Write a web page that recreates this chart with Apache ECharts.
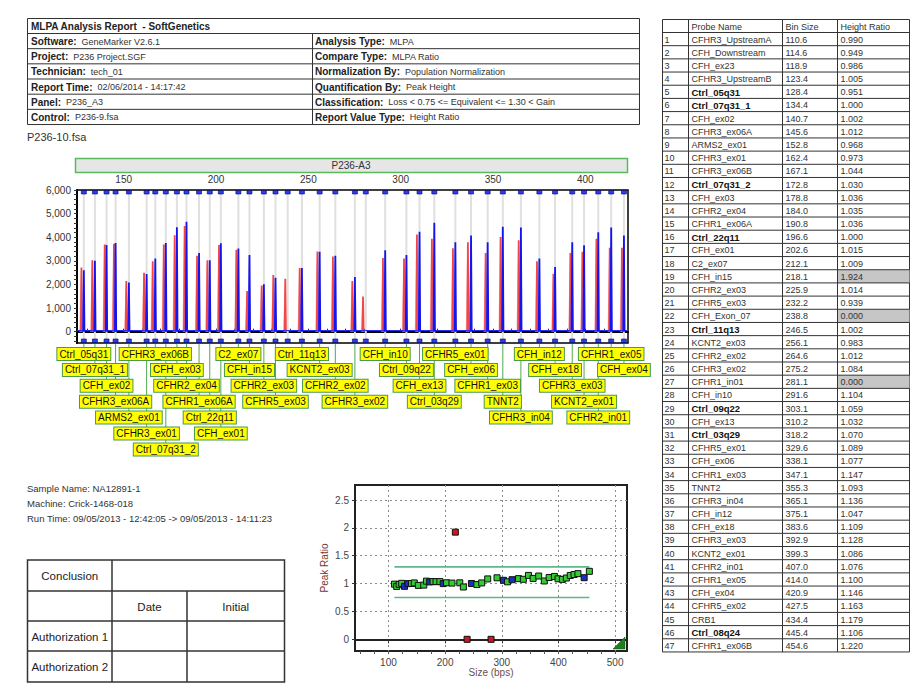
<!DOCTYPE html>
<html><head><meta charset="utf-8">
<script src="https://cdn.jsdelivr.net/npm/echarts@6/dist/echarts.min.js"></script>
<style>html,body{margin:0;padding:0;background:#fff;}#c{width:914px;height:694px;}</style>
</head><body><div id="c"></div>
<script>
const FF = '"Liberation Sans", Arial, sans-serif';

// ---------- report header ----------
const reportTitle = 'MLPA Analysis Report  - SoftGenetics';
const headerLeftLabels = ['Software:', 'Project:', 'Technician:', 'Report Time:', 'Panel:', 'Control:'];
const headerLeftValues = ['GeneMarker V2.6.1', 'P236 Project.SGF', 'tech_01', '02/06/2014 - 14:17:42', 'P236_A3', 'P236-9.fsa'];
const headerRightLabels = ['Analysis Type:', 'Compare Type:', 'Normalization By:', 'Quantification By:', 'Classification:', 'Report Value Type:'];
const headerRightValues = ['MLPA', 'MLPA Ratio', 'Population Normalization', 'Peak Height', 'Loss < 0.75 <= Equivalent <= 1.30 < Gain', 'Height Ratio'];
const sampleFile = 'P236-10.fsa';
const panelName = 'P236-A3';
const sampleInfo = ['Sample Name: NA12891-1', 'Machine: Crick-1468-018', 'Run Time: 09/05/2013 - 12:42:05 -> 09/05/2013 - 14:11:23'];
const conclusionRows = [['Conclusion', '', ''], ['', 'Date', 'Initial'], ['Authorization 1', '', ''], ['Authorization 2', '', '']];

// ---------- probe table ----------
const tableHeaders = ['', 'Probe Name', 'Bin Size', 'Height Ratio'];
const probeNames = ['CFHR3_UpstreamA','CFH_Downstream','CFH_ex23','CFHR3_UpstreamB','Ctrl_05q31','Ctrl_07q31_1','CFH_ex02','CFHR3_ex06A','ARMS2_ex01','CFHR3_ex01','CFHR3_ex06B','Ctrl_07q31_2','CFH_ex03','CFHR2_ex04','CFHR1_ex06A','Ctrl_22q11','CFH_ex01','C2_ex07','CFH_in15','CFHR2_ex03','CFHR5_ex03','CFH_Exon_07','Ctrl_11q13','KCNT2_ex03','CFHR2_ex02','CFHR3_ex02','CFHR1_in01','CFH_in10','Ctrl_09q22','CFH_ex13','Ctrl_03q29','CFHR5_ex01','CFH_ex06','CFHR1_ex03','TNNT2','CFHR3_in04','CFH_in12','CFH_ex18','CFHR3_ex03','KCNT2_ex01','CFHR2_in01','CFHR1_ex05','CFH_ex04','CFHR5_ex02','CRB1','Ctrl_08q24','CFHR1_ex06B'];
const binSizes = [110.6,114.6,118.9,123.4,128.4,134.4,140.7,145.6,152.8,162.4,167.1,172.8,178.8,184.0,190.8,196.6,202.6,212.1,218.1,225.9,232.2,238.8,246.5,256.1,264.6,275.2,281.1,291.6,303.1,310.2,318.2,329.6,338.1,347.1,355.3,365.1,375.1,383.6,392.9,399.3,407.0,414.0,420.9,427.5,434.4,445.4,454.6];
const heightRatios = [0.990,0.949,0.986,1.005,0.951,1.000,1.002,1.012,0.968,0.973,1.044,1.030,1.036,1.035,1.036,1.000,1.015,1.009,1.924,1.014,0.939,0.000,1.002,0.983,1.012,1.084,0.000,1.104,1.059,1.032,1.070,1.089,1.077,1.147,1.093,1.136,1.047,1.109,1.128,1.086,1.076,1.100,1.146,1.163,1.179,1.106,1.220];
const lossThreshold = 0.75, gainThreshold = 1.30;

// ---------- electropherogram peaks (visible window) ----------
const sampleSizes = [128.4,134.4,140.7,145.6,152.8,162.4,167.1,172.8,178.8,184.0,190.8,196.6,202.6,212.1,218.1,225.9,232.2,246.5,256.1,264.6,275.2,291.6,303.1,310.2,318.2,329.6,338.1,347.1,355.3,365.1,375.1,383.6,392.9,399.3,407.0,414.0,420.9];
const sampleHeights = [2600,3000,3670,3760,2080,2440,3100,3760,4420,4650,3330,3020,3740,3520,3250,2010,2280,2700,3380,3220,2310,3450,3250,4230,4610,3790,4070,3790,4440,4410,3100,2740,3790,3660,4210,4410,4070];
const controlSizes = [127.1,133.0,139.7,144.7,151.4,161.0,165.7,171.7,177.6,183.0,189.7,195.3,201.6,211.0,216.8,224.7,231.0,237.5,245.3,254.9,263.3,273.8,279.6,290.4,301.8,308.8,316.9,328.3,336.4,346.0,354.1,363.9,373.8,382.7,391.9,398.4,406.0,413.2,419.8];
const controlHeights = [2720,3020,3690,3720,2150,2500,2980,3690,4080,4480,3220,3020,3670,3470,1720,1960,2400,2240,2700,3400,3180,2150,1490,3120,3100,4110,3930,3530,3790,3330,4010,3870,2980,2450,3330,3380,3930,3550,3550];
const baselineLevel = 40;

// ---------- axis ticks ----------
const epgSizeTicks = [150,200,250,300,350,400];
const epgHeightTicks = [0,1000,2000,3000,4000,5000,6000];
const ratioSizeTicks = [100,200,300,400,500];
const ratioTicks = [0,0.5,1,1.5,2,2.5];

// ---------- layout (label rows under the electropherogram) ----------
const labelRows = {'Ctrl_05q31':1,'Ctrl_07q31_1':2,'CFH_ex02':3,'CFHR3_ex06A':4,'ARMS2_ex01':5,'CFHR3_ex01':6,'CFHR3_ex06B':1,'Ctrl_07q31_2':7,'CFH_ex03':2,'CFHR2_ex04':3,'CFHR1_ex06A':4,'Ctrl_22q11':5,'CFH_ex01':6,'C2_ex07':1,'CFH_in15':2,'CFHR2_ex03':3,'CFHR5_ex03':4,'Ctrl_11q13':1,'KCNT2_ex03':2,'CFHR2_ex02':3,'CFHR3_ex02':4,'CFH_in10':1,'Ctrl_09q22':2,'CFH_ex13':3,'Ctrl_03q29':4,'CFHR5_ex01':1,'CFH_ex06':2,'CFHR1_ex03':3,'TNNT2':4,'CFHR3_in04':5,'CFH_in12':1,'CFH_ex18':2,'CFHR3_ex03':3,'KCNT2_ex01':4,'CFHR2_in01':5,'CFHR1_ex05':1,'CFH_ex04':2};
const EPG_X = [124.7, 423.1], EPG_Y = [-480, 6000];
const RATIO_X = [41, 521], RATIO_Y = [-0.21, 2.77];

// ---------- helpers ----------
const mctx = document.createElement('canvas').getContext('2d');
function tw(t, font) { mctx.font = font; return mctx.measureText(t).width; }
const G = [];
function gRect(x, y, w, h, fill, stroke, lw, z) { G.push({type:'rect', silent:true, z:z||10, shape:{x, y, width:w, height:h}, style:{fill:fill||'none', stroke:stroke||'none', lineWidth:lw||1}}); }
function gLine(x1, y1, x2, y2, stroke, lw, z) { G.push({type:'line', silent:true, z:z||11, shape:{x1, y1, x2, y2}, style:{stroke:stroke||'#333', lineWidth:lw||1}}); }
function gText(x, y, t, font, align, fill, z) {
  G.push({type:'text', silent:true, z:z||12, x, y, style:{text:t, font, fill:fill||'#222', align:align||'left', verticalAlign:'middle', textAlign:align||'left', textVerticalAlign:'middle'}});
}
const fB10 = 'bold 10px ' + FF, f9 = '9px ' + FF, fB9 = 'bold 9.5px ' + FF;

// header table
(function(){
  const x0 = 27.5, x1 = 639.5, y0 = 18.5, titleH = 15, rowH = 15.17, split = 312.5;
  const yEnd = y0 + titleH + rowH * 6;
  gRect(x0, y0, x1 - x0, yEnd - y0, '#fff', '#333', 1);
  gLine(x0, y0 + titleH, x1, y0 + titleH, '#333', 1);
  for (let i = 1; i < 6; i++) gLine(x0, y0 + titleH + i * rowH, x1, y0 + titleH + i * rowH, '#333', 1);
  gLine(split, y0 + titleH, split, yEnd, '#333', 1);
  gText(31, y0 + titleH / 2 + 0.5, reportTitle, fB10);
  for (let i = 0; i < 6; i++) {
    const cy = y0 + titleH + i * rowH + rowH / 2 + 0.5;
    gText(31, cy, headerLeftLabels[i], fB10);
    gText(31 + tw(headerLeftLabels[i], fB10) + 5, cy, headerLeftValues[i], f9, 'left', '#333');
    gText(315, cy, headerRightLabels[i], fB10);
    gText(315 + tw(headerRightLabels[i], fB10) + 5, cy, headerRightValues[i], f9, 'left', '#333');
  }
  gText(27, 137, sampleFile, '11px ' + FF, 'left', '#333');
})();

// probe table
(function(){
  const cols = [662.5, 688.5, 782.5, 837.5, 909.5];
  const y0 = 19.5, headH = 13, rowH = 13.18;
  const yEnd = y0 + headH + rowH * probeNames.length;
  gRect(cols[0], y0, cols[4] - cols[0], yEnd - y0, '#fff', '#333', 1, 9);
  probeNames.forEach((n, i) => {
    const r = heightRatios[i];
    if (r < lossThreshold || r > gainThreshold) gRect(cols[3], y0 + headH + i * rowH, cols[4] - cols[3], rowH, '#c6c6c6', 'none', 1, 10);
  });
  gLine(cols[0], y0 + headH, cols[4], y0 + headH, '#333', 1);
  for (let i = 1; i < probeNames.length; i++) gLine(cols[0], y0 + headH + i * rowH, cols[4], y0 + headH + i * rowH, '#333', 1);
  for (let c = 1; c < 4; c++) gLine(cols[c], y0, cols[c], yEnd, '#333', 1);
  tableHeaders.forEach((h, c) => { if (h) gText(cols[c] + 3, y0 + headH / 2 + 0.5, h, f9, 'left', '#333'); });
  probeNames.forEach((n, i) => {
    const cy = y0 + headH + i * rowH + rowH / 2 + 0.5;
    gText(cols[0] + 2, cy, String(i + 1), f9, 'left', '#333');
    const isCtrl = n.indexOf('Ctrl') === 0;
    gText(cols[1] + 3, cy, n, isCtrl ? fB9 : f9, 'left', isCtrl ? '#111' : '#333');
    gText(cols[2] + 3, cy, binSizes[i].toFixed(1), f9, 'left', '#333');
    gText(cols[3] + 3, cy, heightRatios[i].toFixed(3), f9, 'left', '#333');
  });
})();

// panel bar
gRect(75.5, 158.5, 552, 14, '#e6e6e6', '#5cb85c', 1.5);
gText(351, 165.5, panelName, '10px ' + FF, 'center', '#333');

// sample info
sampleInfo.forEach((t, i) => gText(27, 488 + i * 15, t, '9.5px ' + FF, 'left', '#333'));

// conclusion table
(function(){
  const x0 = 27.5, x1 = 284.5, c1 = 112, c2 = 187, ys = [560, 591, 621, 651, 682];
  gRect(x0, ys[0], x1 - x0, ys[4] - ys[0], '#fff', '#333', 1.5);
  for (let i = 1; i < 4; i++) gLine(x0, ys[i], x1, ys[i], '#333', 1.5);
  gLine(c1, ys[0], c1, ys[4], '#333', 1.5);
  gLine(c2, ys[1], c2, ys[4], '#333', 1.5);
  const cx = [(x0 + c1) / 2, (c1 + c2) / 2, (c2 + x1) / 2];
  conclusionRows.forEach((row, r) => row.forEach((t, c) => {
    if (t) gText(cx[c], (ys[r] + ys[r + 1]) / 2 + 0.5, t, '11.5px ' + FF, 'center', '#222');
  }));
})();

// scatter corner mark
G.push({type:'polygon', silent:true, z:20, shape:{points:[[613, 649], [625, 637], [625, 649]]}, style:{fill:'#1f7f1f', stroke:'#114411', lineWidth:0.5}});

// ---------- chart ----------
const chart = echarts.init(document.getElementById('c'), null, {renderer:'svg', width:914, height:694});

const minorSize = []; for (let v = 130; v <= 420; v += 10) minorSize.push(v);
const minorHeight = []; for (let v = -400; v <= 6000; v += 200) minorHeight.push(v);
const minorRatioSize = []; for (let v = 50; v <= 500; v += 25) minorRatioSize.push(v);

const labelNames = probeNames.filter(n => labelRows[n] !== undefined);
const labelData = labelNames.map(n => [binSizes[probeNames.indexOf(n)], labelRows[n]]);
const ROW_Y0 = 354, ROW_GAP = 15.9;

function peakRender(line, halo) {
  return function (params, api) {
    const x = api.value(0), h = api.value(1);
    const hl = api.coord([x - 1.2, 0]), hr = api.coord([x + 0.5, 0]);
    const pl = api.coord([x - 0.35, 0]), pt = api.coord([x, h]), pr = api.coord([x + 0.35, 0]);
    return {type:'group', children:[
      {type:'polygon', shape:{points:[[hl[0], hl[1]], [pt[0] - 0.6, pt[1] + 3], [hr[0], hr[1]]]}, style:{fill:halo, stroke:'none'}},
      {type:'polyline', shape:{points:[[pl[0], pl[1]], [pt[0], pt[1]], [pr[0], pr[1]]]}, style:{stroke:line, fill:'none', lineWidth:1.8}}
    ]};
  };
}

const scatterData = binSizes.map((b, i) => {
  const r = heightRatios[i];
  let c = '#33cc33';
  if (r < lossThreshold || r > gainThreshold) c = '#c8191e';
  else if (probeNames[i].indexOf('Ctrl') === 0) c = '#1c2fc4';
  return {value:[b, r], itemStyle:{color:c}};
});

const option = {
  animation:false,
  backgroundColor:'#fff',
  textStyle:{fontFamily:FF},
  graphic:{elements:G},
  grid:[
    {left:77, top:190, width:551, height:153, show:true, borderColor:'#000', borderWidth:1.5, backgroundColor:'#fff'},
    {left:355, top:485, width:272, height:166, show:true, borderColor:'#222', borderWidth:2, backgroundColor:'#fff'}
  ],
  xAxis:[
    {type:'value', gridIndex:0, position:'top', min:EPG_X[0], max:EPG_X[1],
     axisLine:{show:true, lineStyle:{color:'#000', width:2}},
     axisTick:{show:true, length:3, customValues:minorSize, lineStyle:{color:'#333'}},
     axisLabel:{customValues:epgSizeTicks, fontSize:10, color:'#333', margin:6, fontFamily:FF},
     splitLine:{show:false}},
    {type:'value', gridIndex:1, position:'bottom', min:RATIO_X[0], max:RATIO_X[1],
     name:'Size (bps)', nameLocation:'middle', nameGap:15, nameTextStyle:{fontSize:10, color:'#6a5050', fontFamily:FF},
     axisLine:{show:true, lineStyle:{color:'#222', width:2}},
     axisTick:{show:true, length:4, customValues:ratioSizeTicks, lineStyle:{color:'#333'}},
     axisLabel:{customValues:ratioSizeTicks, fontSize:10, color:'#444', margin:6, fontFamily:FF},
     splitLine:{show:true, lineStyle:{color:'#8a8a8a', type:[2, 3], width:1}}},
    {type:'value', gridIndex:1, position:'bottom', min:RATIO_X[0], max:RATIO_X[1],
     axisLine:{show:false}, axisLabel:{show:false}, splitLine:{show:false},
     axisTick:{show:true, length:3, customValues:minorRatioSize, lineStyle:{color:'#555'}}}
  ],
  yAxis:[
    {type:'value', gridIndex:0, min:EPG_Y[0], max:EPG_Y[1],
     axisLine:{show:true, lineStyle:{color:'#000', width:2}},
     axisTick:{show:true, length:3, customValues:minorHeight, lineStyle:{color:'#333'}},
     axisLabel:{customValues:epgHeightTicks, fontSize:10, color:'#333', margin:6, fontFamily:FF,
       formatter:v => Number(v).toLocaleString('en-US')},
     splitLine:{show:false}},
    {type:'value', gridIndex:1, min:RATIO_Y[0], max:RATIO_Y[1],
     name:'Peak Ratio', nameLocation:'middle', nameGap:26, nameRotate:90, nameTextStyle:{fontSize:10, color:'#7a3535', fontFamily:FF},
     axisLine:{show:true, lineStyle:{color:'#222', width:2}},
     axisTick:{show:true, length:3, customValues:ratioTicks, lineStyle:{color:'#333'}},
     axisLabel:{customValues:ratioTicks, fontSize:10, color:'#444', margin:6, fontFamily:FF},
     splitLine:{show:true, lineStyle:{color:'#8a8a8a', type:[2, 3], width:1}}}
  ],
  series:[
    // bin lines
    {type:'custom', xAxisIndex:0, yAxisIndex:0, z:1, silent:true, clip:false,
     data:binSizes.map(b => [b, 0]),
     renderItem(params, api) {
       const x = api.value(0);
       if (x < EPG_X[0] || x > EPG_X[1]) return null;
       const t = api.coord([x, EPG_Y[1]]), b = api.coord([x, EPG_Y[0]]);
       return {type:'line', shape:{x1:t[0], y1:t[1] + 1, x2:b[0], y2:b[1] - 1}, style:{stroke:'#e0e0e0', lineWidth:2}};
     }},
    // baseline
    {type:'line', xAxisIndex:0, yAxisIndex:0, data:[], z:3, silent:true,
     markLine:{silent:true, symbol:'none', label:{show:false},
       lineStyle:{color:'#2a2af0', width:1.2, type:'solid'}, data:[{yAxis:baselineLevel}]}},
    // control (red) peaks
    {type:'custom', xAxisIndex:0, yAxisIndex:0, z:4, silent:true,
     data:controlSizes.map((s, i) => [s, controlHeights[i]]), renderItem:peakRender('#f04848', 'rgba(246,140,140,0.6)')},
    // sample (blue) peaks
    {type:'custom', xAxisIndex:0, yAxisIndex:0, z:5, silent:true,
     data:sampleSizes.map((s, i) => [s, sampleHeights[i]]), renderItem:peakRender('#1414ee', 'rgba(110,110,250,0.5)')},
    // bin markers
    {type:'custom', xAxisIndex:0, yAxisIndex:0, z:6, silent:true, clip:false,
     data:binSizes.map(b => [b, 0]),
     renderItem(params, api) {
       const x = api.value(0);
       if (x < EPG_X[0] || x > EPG_X[1]) return null;
       const t = api.coord([x, EPG_Y[1]]), b = api.coord([x, EPG_Y[0]]);
       const st = {fill:'#2b3cf5', stroke:'#000066', lineWidth:0.6};
       return {type:'group', children:[
         {type:'rect', shape:{x:t[0] - 2.5, y:t[1] + 0.5, width:5, height:3.5}, style:st},
         {type:'rect', shape:{x:b[0] - 2.5, y:b[1] - 4, width:5, height:3.5}, style:st}
       ]};
     }},
    // leader lines
    {type:'custom', xAxisIndex:0, yAxisIndex:0, z:7, silent:true, clip:false,
     data:labelData,
     renderItem(params, api) {
       const x = api.value(0), row = api.value(1);
       const b = api.coord([x, EPG_Y[0]]);
       const yRow = ROW_Y0 + (row - 1) * ROW_GAP;
       return {type:'line', shape:{x1:b[0], y1:b[1] + 1, x2:b[0], y2:yRow - 5}, style:{stroke:'#52a852', lineWidth:1}};
     }},
    // probe labels
    {type:'custom', xAxisIndex:0, yAxisIndex:0, z:8, silent:true, clip:false,
     data:labelData,
     renderItem(params, api) {
       const x = api.value(0), row = api.value(1);
       const b = api.coord([x, EPG_Y[0]]);
       const yRow = ROW_Y0 + (row - 1) * ROW_GAP;
       return {type:'text', x:b[0], y:yRow,
         style:{text:labelNames[params.dataIndex], font:'10px ' + FF, fill:'#111',
           align:'center', verticalAlign:'middle', textAlign:'center', textVerticalAlign:'middle',
           backgroundColor:'#ffff00', borderColor:'#4a9a4a', borderWidth:1, padding:[1, 2, 0, 2], lineHeight:11}};
     }},
    // thresholds
    {type:'line', xAxisIndex:1, yAxisIndex:1, symbol:'none', silent:true, z:3,
     lineStyle:{color:'#5cb88a', width:1.6},
     data:[[binSizes[0], gainThreshold], [binSizes[binSizes.length - 1], gainThreshold]]},
    {type:'line', xAxisIndex:1, yAxisIndex:1, symbol:'none', silent:true, z:3,
     lineStyle:{color:'#5cb88a', width:1.6},
     data:[[binSizes[0], lossThreshold], [binSizes[binSizes.length - 1], lossThreshold]]},
    // ratios
    {type:'scatter', xAxisIndex:1, yAxisIndex:1, symbol:'rect', symbolSize:6, z:5, silent:true,
     itemStyle:{borderColor:'#111', borderWidth:1, opacity:1},
     data:scatterData}
  ]
};
chart.setOption(option);
</script>
</body></html>
